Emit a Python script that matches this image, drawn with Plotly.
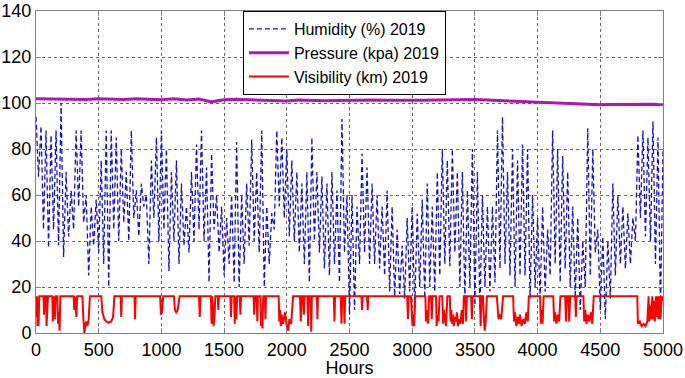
import plotly.graph_objects as go

hum_hours = list(range(0, 5001, 20))
hum_values = [
    94, 68, 90, 45, 88,   37, 86, 45, 88, 38,   100, 33, 70, 42, 62,   45, 88, 55, 88, 48,
    60, 25, 55, 38, 58,   35, 75, 30, 88, 20,   88, 45, 85, 40, 80,   48, 70, 40, 88, 50,
    62, 42, 65, 55, 60,   30, 75, 50, 85, 40,   88, 45, 80, 27, 70,   40, 75, 30, 65, 38,
    55, 35, 70, 40, 82,   45, 88, 40, 72, 22,   78, 45, 60, 35, 55,   25, 50, 30, 60, 22,
    83, 20, 60, 30, 65,   38, 84, 40, 70, 35,   88, 20, 55, 30, 52,   45, 88, 55, 85, 50,
    80, 42, 75, 40, 70,   35, 65, 30, 70, 22,   85, 40, 70, 35, 68,   28, 65, 25, 70, 30,
    62, 22, 93, 35, 60,   8, 60, 10, 55, 30,    78, 35, 72, 30, 65,   30, 60, 28, 55, 25,
    62, 18, 55, 16, 45,   17, 38, 15, 50, 18,   55, 11, 52, 20, 58,   15, 65, 20, 55, 18,
    70, 25, 80, 30, 75,   29, 80, 35, 70, 20,   70, 15, 62, 20, 80,   12, 70, 10, 60, 20,
    55, 18, 55, 22, 88,   28, 94, 30, 70, 25,   80, 20, 75, 25, 82,   25, 80, 15, 60, 20,
    50, 15, 55, 18, 45,   25, 88, 30, 80, 22,   77, 28, 70, 20, 55,   15, 50, 10, 40, 20,
    89, 25, 80, 35, 45,   10, 42, 6, 40, 15,    65, 25, 60, 30, 55,   28, 52, 30, 50, 40,
    86, 50, 88, 42, 85,   40, 92, 30, 85, 10,   80,
]

# Pressure (kPa) every 100 hours
pres_hours = list(range(0, 5001, 100))
pres_values = [
    101.8, 101.7, 101.6, 101.7, 101.5, 101.8, 101.7, 101.5, 101.9, 101.7,
    101.4, 101.8, 101.3, 101.7, 100.5, 101.4, 101.6, 101.4, 101.3, 101.1,
    100.9, 101.3, 101.1, 101.0, 101.1, 101.2, 101.5, 101.3, 101.2, 101.1,
    101.1, 101.2, 101.3, 101.4, 101.5, 101.5, 101.3, 101.1, 100.9, 100.7,
    100.5, 100.3, 100.0, 99.7, 99.5, 99.2, 99.4, 99.5, 99.4, 99.5, 99.3,
]

# Visibility (km): hour / value pairs
vis_hours = [
    0, 4, 8, 12, 16, 20, 26,
    60, 64, 68, 80, 84, 90, 96,
    130, 134, 140, 150, 156, 170, 176, 182, 188, 194,
    300, 305, 310, 322, 328,
    370, 378, 386, 392, 400, 410, 420, 430,
    520, 530, 545, 560, 580, 600, 615, 625,
    675, 680, 685,
    785, 790, 795,
    990, 996, 1005, 1015,
    1100, 1108, 1118, 1130, 1145,
    1300, 1306, 1312,
    1395, 1400, 1406, 1416, 1424, 1430, 1450, 1454, 1458,
    1550, 1555, 1560, 1580, 1585, 1590, 1598, 1604,
    1625, 1630, 1635,
    1735, 1740, 1746, 1760, 1765, 1770, 1790, 1795, 1800, 1806, 1812, 1825, 1830, 1834,
    1935, 1940, 1946, 1952, 1960, 1970, 1985, 2000, 2012, 2020, 2035, 2050,
    2105, 2112, 2118, 2130, 2136, 2142, 2165, 2170, 2176, 2190, 2195, 2200,
    2240, 2244, 2248,
    2375, 2380, 2385,
    2430, 2436, 2442, 2455, 2460, 2466,
    2595, 2600, 2605, 2640, 2645, 2650,
    2960, 2966, 2972, 2990, 2996, 3002, 3008, 3015, 3025,
    3105, 3110, 3118, 3126, 3135, 3150, 3156, 3162, 3190, 3195, 3202, 3210, 3218,
    3240, 3246, 3252, 3260, 3270, 3280,
    3300, 3306, 3312, 3318, 3325, 3332, 3340, 3348, 3356, 3365, 3375, 3385, 3395, 3405, 3412,
    3425, 3430, 3436,
    3470, 3476, 3482,
    3540, 3546, 3552, 3565, 3570, 3578, 3586, 3596,
    3675, 3680, 3688, 3698, 3710, 3725,
    3805, 3812, 3820, 3830, 3840, 3850, 3860, 3872, 3885, 3898, 3910, 3922, 3930,
    4020, 4026, 4032, 4040, 4048,
    4125, 4132, 4140, 4150, 4162, 4172, 4182,
    4220, 4226, 4234, 4246, 4252, 4260,
    4300, 4305, 4310,
    4365, 4372, 4380, 4390, 4400, 4412, 4425, 4436, 4448,
    4795, 4800, 4815, 4830, 4845, 4860, 4875, 4885, 4890, 4900, 4905, 4915, 4920, 4930,
    4935, 4945, 4950, 4960, 4965, 4975, 4980, 4990, 5000,
]
vis_km = [
    16, 7, 16, 3, 12, 3, 16,
    16, 8, 16, 16, 3, 10, 16,
    16, 5, 16, 6, 16, 16, 4, 9, 1, 16,
    16, 10, 16, 7, 16,
    16, 6, 0, 3, 5, 3, 6, 16,
    16, 9, 6, 5, 4.5, 5, 7, 16,
    16, 7, 16,
    16, 6, 16,
    16, 8, 9, 16,
    16, 10, 9, 10, 16,
    16, 7, 16,
    16, 4, 16, 3, 8, 16, 16, 10, 16,
    16, 7, 16, 16, 4, 16, 6, 16,
    16, 8, 16,
    16, 8, 16, 16, 5, 16, 16, 3, 9, 2, 16, 16, 6, 16,
    16, 5, 10, 3, 8, 4, 9, 3, 1, 6, 4, 16,
    16, 5, 16, 16, 8, 16, 16, 3, 16, 16, 0.5, 16,
    16, 6, 16,
    16, 5, 16,
    16, 4, 16, 16, 4, 16,
    16, 10, 16, 16, 10, 16,
    16, 6, 16, 16, 10, 3, 8, 3, 16,
    16, 5, 10, 4, 16, 16, 6, 16, 16, 3, 8, 5, 16,
    16, 4, 10, 6, 3, 16,
    16, 5, 10, 4, 8, 3, 7, 5, 9, 3, 6, 4, 10, 4, 16,
    16, 5, 16,
    16, 6, 16,
    16, 3, 16, 16, 8, 1, 5, 16,
    16, 10, 6, 8, 6, 16,
    16, 5, 9, 3, 7, 4, 8, 3, 6, 4, 9, 5, 16,
    16, 4, 10, 4, 16,
    16, 5, 9, 4, 8, 5, 16,
    16, 5, 16, 16, 5, 16,
    16, 7, 16,
    16, 5, 10, 4, 8, 5, 9, 4, 16,
    16, 4, 5, 3, 4, 3, 5, 16, 5, 12, 6, 16, 6, 14,
    5, 16, 7, 16, 6, 16, 6, 16, 14,
]

x_ticks = [0, 500, 1000, 1500, 2000, 2500, 3000, 3500, 4000, 4500, 5000]
y_ticks = [0, 20, 40, 60, 80, 100, 120, 140]

fig = go.Figure()
fig.add_trace(go.Scatter(
    x=hum_hours, y=hum_values, mode="lines", name="Humidity (%) 2019",
    line=dict(color="#0f0fd7", width=1.3, dash="5px,3px"),
))
fig.add_trace(go.Scatter(
    x=pres_hours, y=pres_values, mode="lines", name="Pressure (kpa) 2019",
    line=dict(color="#b414b4", width=3),
))
fig.add_trace(go.Scatter(
    x=vis_hours, y=vis_km, mode="lines", name="Visibility (km) 2019",
    line=dict(color="#ff0000", width=2),
))

axis_common = dict(
    showline=True, linecolor="#808080", linewidth=1, mirror="allticks",
    ticks="inside", ticklen=5, tickcolor="#808080",
    showgrid=True, gridcolor="#666", griddash="dot", gridwidth=1,
    zeroline=False, automargin=False, ticklabeloverflow="allow",
    tickfont=dict(family="Liberation Sans, Arial", size=18, color="black"),
)

fig.update_layout(
    width=685, height=378,
    margin=dict(l=36, r=22, t=11, b=45),
    paper_bgcolor="white", plot_bgcolor="white",
    font=dict(family="Liberation Sans, Arial", size=16, color="black"),
    xaxis=dict(range=[0, 5000], tickvals=x_ticks, ticktext=[str(v) for v in x_ticks],
               title=dict(text="Hours", standoff=0, font=dict(size=18)), **axis_common),
    yaxis=dict(range=[0, 140], tickvals=y_ticks, ticktext=[str(v) for v in y_ticks],
               **axis_common),
    legend=dict(x=0.33, y=1, xanchor="left", yanchor="top",
                bgcolor="white", bordercolor="black", borderwidth=1,
                font=dict(size=16), tracegroupgap=0, itemwidth=40),
    showlegend=True,
)

fig.write_html("out.html", config={"displayModeBar": False},
               post_script="document.body.style.margin='0';")
